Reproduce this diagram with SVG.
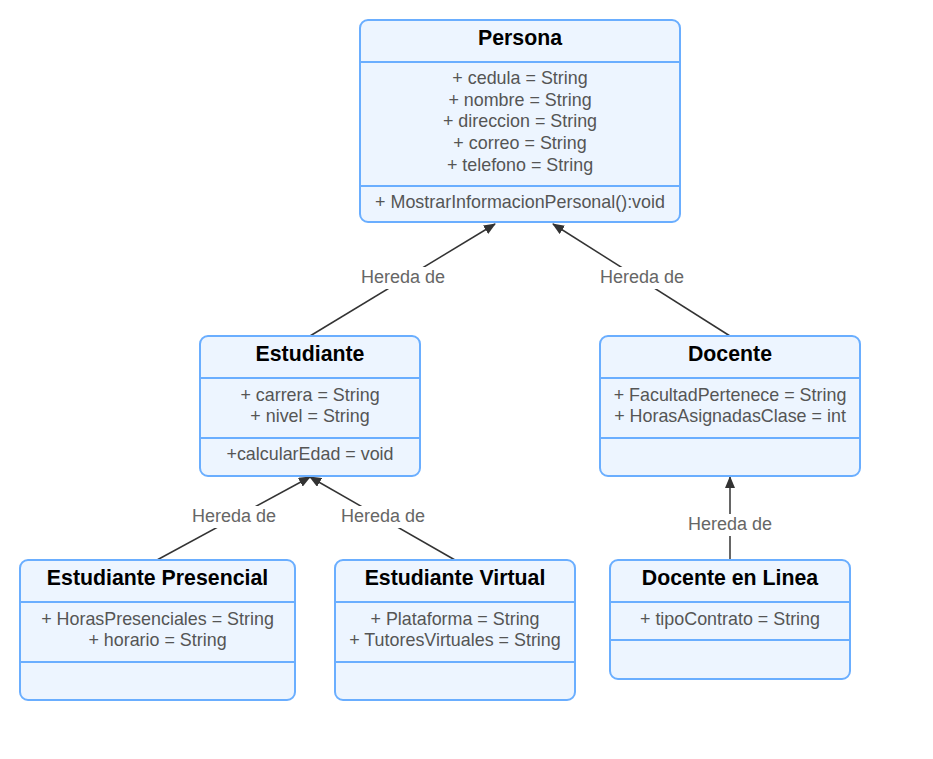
<svg xmlns="http://www.w3.org/2000/svg" width="933" height="759" viewBox="0 0 933 759">
<defs>
<marker id="arr" viewBox="0 0 12 10" refX="11" refY="5" markerWidth="12" markerHeight="10" markerUnits="userSpaceOnUse" orient="auto">
<path d="M0,0 L12,5 L0,10 z" fill="#333"/>
</marker>
<style>
.box{fill:#EDF5FF;stroke:#6AAEFF;stroke-width:2}
.div{stroke:#6AAEFF;stroke-width:2}
.t{font-family:"Liberation Sans",Arial,sans-serif;font-size:21.3px;font-weight:bold;fill:#000;text-anchor:middle}
.a{font-family:"Liberation Sans",Arial,sans-serif;font-size:17.9px;fill:#555;text-anchor:middle}
.l{font-family:"Liberation Sans",Arial,sans-serif;font-size:18px;fill:#666;text-anchor:middle}
.c{stroke:#333;stroke-width:1.5;fill:none}
.bg{fill:#fff}
</style>
</defs>
<rect width="933" height="759" fill="#fff"/>
<g id="connectors">
<line class="c" x1="310" y1="336" x2="495" y2="224" marker-end="url(#arr)"/>
<line class="c" x1="730" y1="336" x2="553" y2="224" marker-end="url(#arr)"/>
<line class="c" x1="157" y1="560" x2="310" y2="477" marker-end="url(#arr)"/>
<line class="c" x1="455" y1="560" x2="310" y2="477" marker-end="url(#arr)"/>
<line class="c" x1="730" y1="560" x2="730" y2="477" stroke-width="2" marker-end="url(#arr)"/>
<rect class="bg" x="356" y="267" width="94" height="22"/>
<text class="l" x="403" y="283">Hereda de</text>
<rect class="bg" x="595" y="267" width="94" height="22"/>
<text class="l" x="642" y="283">Hereda de</text>
<rect class="bg" x="187" y="506" width="94" height="22"/>
<text class="l" x="234" y="522">Hereda de</text>
<rect class="bg" x="336" y="506" width="94" height="22"/>
<text class="l" x="383" y="522">Hereda de</text>
<rect class="bg" x="683" y="514" width="94" height="22"/>
<text class="l" x="730" y="530">Hereda de</text>
</g>
<g id="persona">
<rect class="box" x="360" y="20" width="320" height="202" rx="8"/>
<line class="div" x1="360" y1="62" x2="680" y2="62"/>
<line class="div" x1="360" y1="186" x2="680" y2="186"/>
<text class="t" x="520" y="45">Persona</text>
<text class="a" x="520" y="84">+ cedula = String</text>
<text class="a" x="520" y="106">+ nombre = String</text>
<text class="a" x="520" y="127">+ direccion = String</text>
<text class="a" x="520" y="149">+ correo = String</text>
<text class="a" x="520" y="171">+ telefono = String</text>
<text class="a" x="520" y="208">+ MostrarInformacionPersonal():void</text>
</g>
<g id="estudiante">
<rect class="box" x="200" y="336" width="220" height="140" rx="8"/>
<line class="div" x1="200" y1="378" x2="420" y2="378"/>
<line class="div" x1="200" y1="438" x2="420" y2="438"/>
<text class="t" x="310" y="361">Estudiante</text>
<text class="a" x="310" y="401">+ carrera = String</text>
<text class="a" x="310" y="422">+ nivel = String</text>
<text class="a" x="310" y="460">+calcularEdad = void</text>
</g>
<g id="docente">
<rect class="box" x="600" y="336" width="260" height="140" rx="8"/>
<line class="div" x1="600" y1="378" x2="860" y2="378"/>
<line class="div" x1="600" y1="438" x2="860" y2="438"/>
<text class="t" x="730" y="361">Docente</text>
<text class="a" x="730" y="401">+ FacultadPertenece = String</text>
<text class="a" x="730" y="422">+ HorasAsignadasClase = int</text>
</g>
<g id="estudiante-presencial">
<rect class="box" x="20" y="560" width="275" height="140" rx="8"/>
<line class="div" x1="20" y1="602" x2="295" y2="602"/>
<line class="div" x1="20" y1="662" x2="295" y2="662"/>
<text class="t" x="157.5" y="585">Estudiante Presencial</text>
<text class="a" x="157.5" y="625">+ HorasPresenciales = String</text>
<text class="a" x="157.5" y="646">+ horario = String</text>
</g>
<g id="estudiante-virtual">
<rect class="box" x="335" y="560" width="240" height="140" rx="8"/>
<line class="div" x1="335" y1="602" x2="575" y2="602"/>
<line class="div" x1="335" y1="662" x2="575" y2="662"/>
<text class="t" x="455" y="585">Estudiante Virtual</text>
<text class="a" x="455" y="625">+ Plataforma = String</text>
<text class="a" x="455" y="646">+ TutoresVirtuales = String</text>
</g>
<g id="docente-en-linea">
<rect class="box" x="610" y="560" width="240" height="119" rx="8"/>
<line class="div" x1="610" y1="602" x2="850" y2="602"/>
<line class="div" x1="610" y1="640" x2="850" y2="640"/>
<text class="t" x="730" y="585">Docente en Linea</text>
<text class="a" x="730" y="625">+ tipoContrato = String</text>
</g>
</svg>
